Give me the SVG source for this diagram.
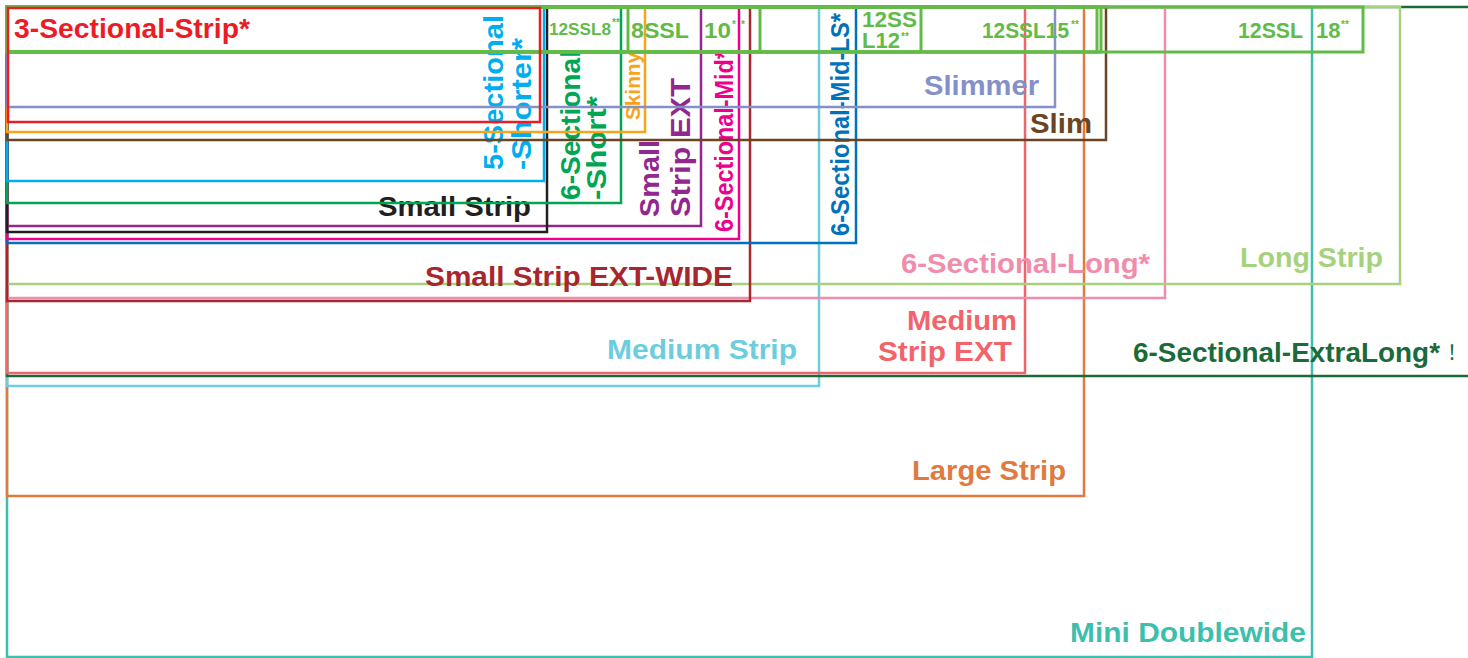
<svg xmlns="http://www.w3.org/2000/svg" width="1468" height="658" viewBox="0 0 1468 658">
<style>
rect{fill:none;stroke-width:2.5}
text{font-family:"Liberation Sans",Arial,sans-serif;font-weight:bold;font-size:28px}
.e{text-anchor:end}
.g rect{stroke:#62bb46;stroke-width:3}
.g text{fill:#62bb46;font-size:22px}
.g text.s{font-size:10px}
</style>
<rect x="0" y="0" width="1468" height="658" style="fill:#fff;stroke:none"/>

<g id="n-mini-doublewide"><rect x="7" y="7" width="1305" height="650" stroke="#3dbfad"/>
<text class="e" x="1306" y="642" fill="#3dbfad" textLength="236" lengthAdjust="spacingAndGlyphs">Mini Doublewide</text></g>

<g id="n-large-strip"><rect x="7" y="7" width="1077" height="489" stroke="#e07a3f"/>
<text class="e" x="1066" y="480" fill="#e07a3f" textLength="154" lengthAdjust="spacingAndGlyphs">Large Strip</text></g>

<g id="n-medium-strip"><rect x="7" y="7" width="812" height="379" stroke="#6dcde0"/>
<text class="e" x="797" y="359" fill="#6dcde0" textLength="190" lengthAdjust="spacingAndGlyphs">Medium Strip</text></g>

<g id="n-6-sectional-extralong"><rect x="7" y="7" width="1480" height="369" stroke="#1a6a3a"/>
<text class="e" x="1440" y="362" fill="#1a6a3a" textLength="307" lengthAdjust="spacingAndGlyphs">6-Sectional-ExtraLong*</text>
<text x="1447" y="360" fill="#1a6a3a" style="font-family:'Liberation Sans','Noto Sans CJK SC',sans-serif;font-weight:normal;font-size:20px">！</text></g>

<g id="n-medium-strip-ext"><rect x="7" y="7" width="1018" height="366" stroke="#f2636a"/>
<text class="e" x="1017" y="330" fill="#f2636a" textLength="110" lengthAdjust="spacingAndGlyphs">Medium</text>
<text class="e" x="1012" y="361" fill="#f2636a" textLength="134" lengthAdjust="spacingAndGlyphs">Strip EXT</text></g>

<g id="n-6-sectional-long"><rect x="7" y="7" width="1158" height="291" stroke="#ef8dab"/>
<text class="e" x="1150" y="273" fill="#ef8dab" textLength="249" lengthAdjust="spacingAndGlyphs">6-Sectional-Long*</text></g>

<g id="n-long-strip"><rect x="7" y="7" width="1393" height="277" stroke="#a6d27e"/>
<text class="e" x="1383" y="267" fill="#a6d27e" textLength="143" lengthAdjust="spacingAndGlyphs">Long Strip</text></g>

<g id="n-small-strip-ext-wide"><rect x="7" y="7" width="743" height="294" stroke="#a8272e"/>
<text class="e" x="733" y="286" fill="#a8272e" textLength="308" lengthAdjust="spacingAndGlyphs">Small Strip EXT-WIDE</text></g>

<g id="n-6-sectional-mid-ls"><rect x="7" y="7" width="849" height="236" stroke="#0072bc"/>
<text transform="translate(849,236) rotate(-90)" fill="#0072bc" style="font-size:26px" textLength="223" lengthAdjust="spacingAndGlyphs">6-Sectional-Mid-LS*</text></g>

<g id="n-6-sectional-mid"><rect x="7" y="7" width="732" height="232" stroke="#ec008c"/>
<text transform="translate(733,232) rotate(-90)" fill="#ec008c" style="font-size:25px" textLength="182" lengthAdjust="spacingAndGlyphs">6-Sectional-Mid*</text></g>

<g id="n-small-strip-ext"><rect x="7" y="7" width="694" height="219" stroke="#92278f"/>
<text transform="translate(659,217) rotate(-90)" fill="#92278f" textLength="77" lengthAdjust="spacingAndGlyphs">Small</text>
<text transform="translate(690,217) rotate(-90)" fill="#92278f" textLength="139" lengthAdjust="spacingAndGlyphs">Strip EXT</text></g>

<g id="n-small-strip"><rect x="7" y="7" width="540" height="225" stroke="#231f20"/>
<text class="e" x="531" y="216" fill="#231f20" textLength="153" lengthAdjust="spacingAndGlyphs">Small Strip</text></g>

<g id="n-6-sectional-short"><rect x="7" y="7" width="614" height="196" stroke="#00a651"/>
<text transform="translate(580,200) rotate(-90)" fill="#00a651" textLength="150" lengthAdjust="spacingAndGlyphs">6-Sectional</text>
<text transform="translate(606,200) rotate(-90)" fill="#00a651" textLength="104" lengthAdjust="spacingAndGlyphs">-Short*</text></g>

<g id="n-5-sectional-shorter"><rect x="7" y="7" width="537" height="174" stroke="#00aeef"/>
<text transform="translate(503,170) rotate(-90)" fill="#00aeef" textLength="155" lengthAdjust="spacingAndGlyphs">5-Sectional</text>
<text transform="translate(531,170) rotate(-90)" fill="#00aeef" textLength="132" lengthAdjust="spacingAndGlyphs">-Shorter*</text></g>

<g id="n-slim"><rect x="7" y="7" width="1099" height="133" stroke="#6b4423"/>
<text class="e" x="1092" y="133" fill="#6b4423" textLength="62" lengthAdjust="spacingAndGlyphs">Slim</text></g>

<g id="n-skinny"><rect x="7" y="7" width="638" height="125" stroke="#f9a31b"/>
<text transform="translate(640,120) rotate(-90)" fill="#f9a31b" style="font-size:20px" textLength="68" lengthAdjust="spacingAndGlyphs">Skinny</text></g>

<g id="n-slimmer"><rect x="7" y="7" width="1048" height="100" stroke="#8590c8"/>
<text class="e" x="1039" y="95" fill="#8590c8" textLength="115" lengthAdjust="spacingAndGlyphs">Slimmer</text></g>

<g id="n-12ssl18" class="g"><rect x="7" y="7" width="1356" height="45"/>
<text x="1238" y="38" textLength="65" lengthAdjust="spacingAndGlyphs">12SSL</text>
<text x="1316" y="38">18</text><text class="s" x="1341" y="28">**</text></g>

<g id="n-12ssl15b" class="g"><rect x="7" y="7" width="1094" height="45"/></g>

<g id="n-12ssl15" class="g"><rect x="7" y="7" width="1090" height="45"/>
<text x="982" y="38" textLength="87" lengthAdjust="spacingAndGlyphs">12SSL15</text>
<text class="s" x="1071" y="28">**</text></g>

<g id="n-12ssl12" class="g"><rect x="7" y="7" width="914" height="45"/>
<text x="862" y="27" textLength="55" lengthAdjust="spacingAndGlyphs">12SS</text>
<text x="862" y="48">L12</text><text class="s" x="901" y="40">**</text></g>

<g id="n-12ssl10" class="g"><rect x="7" y="7" width="753" height="45"/>
<text x="631" y="38" textLength="58" lengthAdjust="spacingAndGlyphs">8SSL</text>
<text x="704" y="38" textLength="27" lengthAdjust="spacingAndGlyphs">10</text>
<text class="s" x="732" y="28">*</text>
<text class="s" x="741" y="28">*</text></g>

<g id="n-12ssl8" class="g"><rect x="7" y="7" width="621" height="45"/>
<text x="549" y="35" style="font-size:17px" textLength="62" lengthAdjust="spacingAndGlyphs">12SSL8</text>
<text class="s" x="612" y="26">**</text></g>

<g id="n-3-sectional-strip"><rect x="8" y="8" width="532" height="114" stroke="#ed1c24"/>
<text x="14" y="38" fill="#ed1c24" textLength="236" lengthAdjust="spacingAndGlyphs">3-Sectional-Strip*</text></g>
</svg>
